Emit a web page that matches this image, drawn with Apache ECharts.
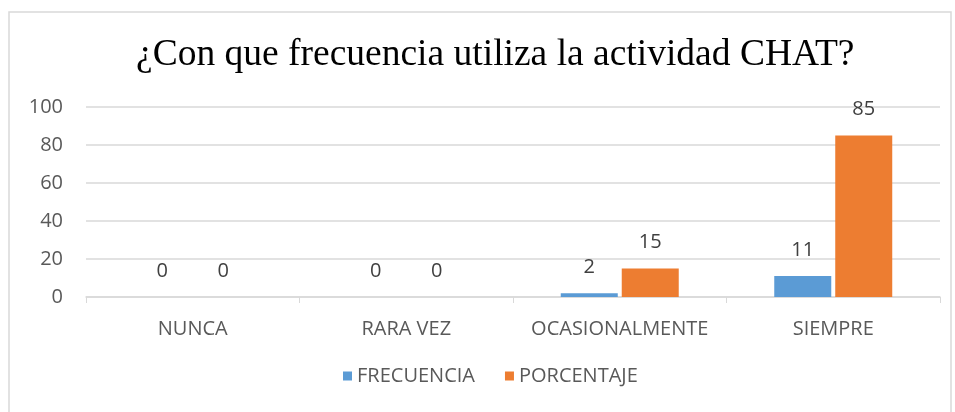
<!DOCTYPE html>
<html>
<head>
<meta charset="utf-8">
<script src="https://cdn.jsdelivr.net/npm/echarts@6/dist/echarts.min.js"></script>
<style>
  html, body { margin: 0; padding: 0; background: #fff; }
  #chart { width: 955px; height: 412px; }
</style>
</head>
<body>
<div id="chart"></div>
<script>
// datos
var categorias = ['NUNCA', 'RARA VEZ', 'OCASIONALMENTE', 'SIEMPRE']
var frecuencia = [0, 0, 2, 11]
var porcentaje = [0, 0, 15, 85]
var ejeY = [0, 20, 40, 60, 80, 100]

var myChart = echarts.init(document.getElementById('chart'))
var fuente = '"Open Sans", "Liberation Sans", sans-serif'
var etiqueta = {
  show: true,
  position: 'top',
  distance: 16,
  color: '#404040',
  fontSize: 20,
  fontFamily: fuente
}

var option = {
  animation: false,
  title: {
    text: '¿Con que frecuencia utiliza la actividad CHAT?',
    left: 131,
    top: 31,
    textStyle: {
      fontFamily: '"Liberation Serif", "DejaVu Serif", serif',
      fontWeight: 'normal',
      fontSize: 37.5,
      color: '#000'
    }
  },
  graphic: [{
    type: 'rect',
    shape: { x: 9, y: 12, width: 942, height: 410 },
    style: { fill: 'none', stroke: '#d9d9d9', lineWidth: 1.5 },
    silent: true
  }],
  legend: {
    bottom: 21,
    left: 338,
    itemWidth: 9,
    itemHeight: 9,
    itemGap: 30,
    icon: 'rect',
    textStyle: { color: '#595959', fontSize: 20, fontFamily: fuente }
  },
  grid: { left: 86, right: 15, top: 107, bottom: 115 },
  xAxis: {
    type: 'category',
    data: categorias,
    axisLine: { lineStyle: { color: '#d9d9d9', width: 1.5 } },
    axisTick: { show: true, length: 6, lineStyle: { color: '#d9d9d9' } },
    axisLabel: { color: '#595959', fontSize: 20, fontFamily: fuente, margin: 22, interval: 0 }
  },
  yAxis: {
    type: 'value',
    min: ejeY[0],
    max: ejeY[ejeY.length - 1],
    interval: 20,
    axisLine: { show: false },
    axisTick: { show: false },
    axisLabel: { color: '#595959', fontSize: 20, fontFamily: fuente, margin: 23 },
    splitLine: { lineStyle: { color: '#d9d9d9', width: 1.5 } }
  },
  series: [{
    name: 'FRECUENCIA',
    type: 'bar',
    data: frecuencia,
    barWidth: 57,
    barGap: '7%',
    itemStyle: { color: '#5b9bd5' },
    label: etiqueta
  }, {
    name: 'PORCENTAJE',
    type: 'bar',
    data: porcentaje,
    barWidth: 57,
    itemStyle: { color: '#ed7d31' },
    label: etiqueta
  }]
}
myChart.setOption(option)
</script>
</body>
</html>
